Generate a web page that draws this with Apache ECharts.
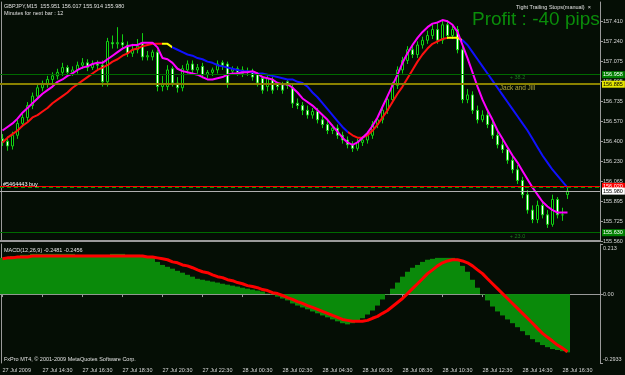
<!DOCTYPE html>
<html><head><meta charset="utf-8">
<script src="https://cdn.jsdelivr.net/npm/echarts@6/dist/echarts.min.js"></script>
<style>html,body{margin:0;padding:0;background:#050e05}#c{width:625px;height:375px}</style>
</head><body><div id="c"></div>
<script>
// ---- data (GBPJPY M15, 27 Jul 2009 12:30 .. 28 Jul 2009 16:45) ----
const timeTickLabels = ['27 Jul 2009','27 Jul 14:30','27 Jul 16:30','27 Jul 18:30','27 Jul 20:30','27 Jul 22:30','28 Jul 00:30','28 Jul 02:30','28 Jul 04:30','28 Jul 06:30','28 Jul 08:30','28 Jul 10:30','28 Jul 12:30','28 Jul 14:30','28 Jul 16:30'];
const priceTicks = [157.410,157.240,157.075,156.905,156.735,156.570,156.400,156.230,156.065,155.895,155.725,155.560];
const macdTicks = [0.213, 0, -0.2933];

const openP = [156.42,156.40,156.36,156.45,156.55,156.60,156.70,156.78,156.85,156.88, 156.92,156.95,156.98,157.02,156.98,157.00,157.04,157.06,157.02,157.05,
 157.04,156.90,157.23,157.22,157.23,157.21,157.14,157.17,157.22,157.11, 157.11,157.15,156.86,156.86,157.01,156.89,156.85,157.00,157.05,157.00,
 157.03,156.96,156.98,157.00,157.06,157.05,156.99,157.01,156.97,156.99, 156.98,156.96,156.93,156.86,156.92,156.88,156.88,156.90,156.85,156.72,
 156.70,156.66,156.62,156.65,156.58,156.54,156.49,156.51,156.45,156.41, 156.37,156.34,156.39,156.41,156.45,156.54,156.58,156.66,156.75,156.87,
 157.00,157.08,157.17,157.13,157.21,157.25,157.29,157.34,157.25,157.38, 157.29,157.34,157.17,156.75,156.79,156.66,156.58,156.62,156.54,156.45,
 156.37,156.33,156.24,156.16,156.07,155.95,155.82,155.74,155.86,155.78, 155.70,155.91,155.78,155.951];
const highP = [156.46,156.44,156.48,156.58,156.63,156.73,156.81,156.88,156.91,156.95, 156.98,157.01,157.06,157.04,157.03,157.07,157.10,157.09,157.08,157.08,
 157.08,157.27,157.29,157.36,157.30,157.24,157.22,157.26,157.31,157.16, 157.17,157.17,156.95,157.04,157.03,156.94,157.04,157.08,157.08,157.05,
 157.06,157.00,157.02,157.08,157.08,157.07,157.03,157.03,157.03,157.02, 157.01,156.98,156.95,156.95,156.94,156.90,156.90,156.92,156.88,156.76,
 156.73,156.70,156.68,156.68,156.61,156.57,156.54,156.54,156.48,156.44, 156.40,156.42,156.44,156.48,156.57,156.61,156.69,156.78,156.90,157.03,
 157.11,157.20,157.22,157.24,157.28,157.33,157.38,157.40,157.42,157.42, 157.38,157.37,157.20,156.84,156.82,156.70,156.66,156.65,156.58,156.50,
 156.41,156.36,156.28,156.20,156.10,155.99,155.86,155.90,155.90,155.82, 155.95,155.93,155.84,156.017];
const lowP = [156.36,156.32,156.33,156.42,156.52,156.57,156.67,156.75,156.82,156.85, 156.89,156.92,156.95,156.95,156.95,156.97,157.01,156.99,157.00,157.00,
 156.86,156.86,157.18,157.18,157.18,157.11,157.11,157.14,157.08,157.08, 157.08,156.82,156.82,156.83,156.86,156.81,156.82,156.97,156.96,156.97,
 156.93,156.93,156.95,156.97,157.00,156.85,156.96,156.95,156.94,156.95, 156.91,156.86,156.80,156.82,156.80,156.83,156.80,156.84,156.68,156.67,
 156.62,156.59,156.59,156.55,156.51,156.46,156.46,156.42,156.38,156.34, 156.31,156.32,156.36,156.38,156.42,156.51,156.55,156.63,156.72,156.84,
 156.97,157.05,157.10,157.10,157.18,157.22,157.26,157.22,157.22,157.26, 157.26,157.14,156.72,156.72,156.63,156.55,156.56,156.51,156.42,156.34,
 156.30,156.21,156.13,156.04,155.92,155.79,155.71,155.71,155.75,155.67, 155.68,155.75,155.73,155.914];
const closeP = [156.40,156.36,156.45,156.55,156.60,156.70,156.78,156.85,156.88,156.92, 156.95,156.98,157.02,156.98,157.00,157.04,157.06,157.02,157.05,157.04,
 156.90,157.24,157.22,157.23,157.21,157.14,157.17,157.20,157.11,157.12, 157.15,156.86,156.88,157.00,156.89,156.85,157.01,157.05,157.00,157.02,
 156.96,156.98,157.00,157.05,157.04,156.89,157.01,156.98,157.00,156.98, 156.94,156.89,156.83,156.93,156.83,156.86,156.83,156.87,156.72,156.70,
 156.66,156.62,156.65,156.58,156.54,156.49,156.51,156.45,156.41,156.37, 156.34,156.39,156.41,156.45,156.54,156.58,156.66,156.75,156.87,157.00,
 157.08,157.17,157.13,157.21,157.25,157.29,157.34,157.25,157.38,157.29, 157.34,157.17,156.75,156.79,156.66,156.58,156.62,156.54,156.45,156.37,
 156.33,156.24,156.16,156.07,155.95,155.82,155.74,155.86,155.78,155.70, 155.91,155.78,155.78,155.980];

const trendMA = [156.39,156.43,156.46,156.49,156.53,156.56,156.60,156.62,156.65,156.68, 156.72,156.75,156.78,156.81,156.85,156.88,156.91,156.94,156.97,157.00,
 157.02,157.04,157.07,157.09,157.12,157.14,157.17,157.18,157.20,157.21, 157.22,157.22,157.22,157.22,157.19,157.17,157.15,157.13,157.12,157.10,
 157.09,157.07,157.06,157.04,157.03,157.02,157.01,157.00,156.99,156.99, 156.98,156.97,156.97,156.96,156.95,156.94,156.93,156.92,156.92,156.90,
 156.89,156.86,156.81,156.77,156.72,156.67,156.62,156.57,156.52,156.48, 156.45,156.43,156.43,156.45,156.49,156.54,156.60,156.66,156.73,156.80,
 156.86,156.93,157.00,157.07,157.13,157.18,157.22,157.24,157.26,157.27, 157.27,157.27,157.25,157.21,157.15,157.09,157.03,156.97,156.91,156.85,
 156.79,156.73,156.67,156.61,156.55,156.49,156.42,156.35,156.28,156.22, 156.16,156.11,156.06,156.01];
const fastMA = [156.49,156.52,156.55,156.59,156.64,156.68,156.72,156.76,156.80,156.83, 156.86,156.90,156.92,156.95,156.97,157.00,157.02,157.03,157.05,157.06,
 157.06,157.09,157.12,157.15,157.18,157.20,157.21,157.21,157.23,157.23, 157.23,157.19,157.10,157.09,157.06,157.01,156.99,156.98,156.97,156.96,
 156.94,156.92,156.92,156.93,156.94,156.96,156.97,156.97,156.98,156.98, 156.99,156.97,156.94,156.93,156.92,156.89,156.88,156.88,156.85,156.81,
 156.76,156.73,156.70,156.66,156.62,156.58,156.53,156.48,156.43,156.39, 156.37,156.39,156.43,156.47,156.53,156.60,156.69,156.78,156.87,156.96,
 157.06,157.14,157.21,157.27,157.32,157.36,157.39,157.40,157.42,157.41, 157.38,157.32,157.21,157.10,156.98,156.86,156.75,156.66,156.58,156.49,
 156.42,156.35,156.28,156.22,156.15,156.08,156.01,155.95,155.89,155.85, 155.82,155.80,155.80,155.80];

const macdMain = [0.154,0.158,0.162,0.162,0.167,0.167,0.171,0.171,0.171,0.171, 0.171,0.171,0.171,0.171,0.171,0.167,0.167,0.167,0.167,0.167,
 0.167,0.167,0.171,0.171,0.171,0.167,0.167,0.167,0.162,0.162, 0.158,0.137,0.124,0.116,0.108,0.099,0.091,0.082,0.074,0.065,
 0.061,0.057,0.053,0.049,0.044,0.040,0.036,0.032,0.027,0.023, 0.019,0.015,0.011,0.002,-0.002,-0.011,-0.019,-0.027,-0.040,-0.049,
 -0.057,-0.065,-0.074,-0.082,-0.091,-0.099,-0.108,-0.116,-0.124,-0.129, -0.124,-0.116,-0.103,-0.087,-0.070,-0.049,-0.023,-0.002,0.023,0.049,
 0.074,0.095,0.112,0.124,0.137,0.146,0.150,0.154,0.154,0.154, 0.154,0.146,0.120,0.095,0.061,0.027,-0.002,-0.027,-0.053,-0.074,
 -0.091,-0.108,-0.124,-0.141,-0.158,-0.175,-0.192,-0.205,-0.217,-0.226, -0.234,-0.238,-0.243,-0.2481];
const macdSignal = [0.150,0.154,0.154,0.158,0.158,0.158,0.162,0.162,0.162,0.162, 0.162,0.162,0.162,0.162,0.162,0.162,0.162,0.162,0.162,0.162,
 0.162,0.162,0.162,0.162,0.162,0.162,0.162,0.162,0.162,0.158, 0.158,0.154,0.150,0.146,0.137,0.133,0.124,0.120,0.112,0.103,
 0.095,0.091,0.082,0.074,0.070,0.061,0.057,0.049,0.044,0.036, 0.032,0.027,0.019,0.015,0.006,0.002,-0.006,-0.015,-0.023,-0.032,
 -0.040,-0.049,-0.057,-0.065,-0.074,-0.082,-0.091,-0.099,-0.108,-0.112, -0.116,-0.116,-0.116,-0.112,-0.103,-0.095,-0.082,-0.070,-0.053,-0.036,
 -0.019,0.002,0.023,0.044,0.065,0.087,0.103,0.120,0.133,0.141, 0.146,0.146,0.141,0.133,0.120,0.103,0.087,0.065,0.044,0.023,
 0.002,-0.019,-0.040,-0.061,-0.082,-0.103,-0.124,-0.146,-0.167,-0.184, -0.200,-0.217,-0.230,-0.2456];

// colour segments of the trend MA (bar index ranges)
const trendSegments = [[0,32,'#ff1010'],[32,34,'#ffff00'],[34,69,'#1010ff'],[69,89,'#ff1010'],[89,92,'#ffff00'],[92,114,'#1010ff']];

const levels = [
  {name: 'fibo', value: 156.958, text: '156.958'},
  {name: 'jack', value: 156.885, text: '156.885'},
  {name: 'order', value: 156.010, text: ''},
  {name: 'stop', value: 156.020, text: '156.020'},
  {name: 'bid', value: 155.980, text: '155.980'},
  {name: 'fibo2', value: 155.630, text: '155.630'}
];

// ---- chart ----
const totalSlots = 120;
const cats = Array.from({length: totalSlots}, (_, i) => i);
const candleData = closeP.map((c, i) => [openP[i], c, lowP[i], highP[i]]);
const FONT = 'Liberation Sans';
const lblColor = '#d8d8d8';
const grey = '#9a9a9a';
const showTick = i => i % 8 === 0 && i / 8 < timeTickLabels.length;

const chart = echarts.init(document.getElementById('c'), null, {renderer: 'canvas'});
const rLabel = (txt, bg, fg) => ({show: true, position: 'end', distance: 2, formatter: txt,
  backgroundColor: bg, color: fg, fontSize: 5.5, fontFamily: FONT, padding: [1, 2, 0, 1]});
const lv = n => levels.find(l => l.name === n);

chart.setOption({
  animation: false,
  backgroundColor: '#050e05',
  grid: [
    {left: 0, right: 25, top: 2, height: 239, containLabel: false, outerBoundsMode: 'none'},
    {left: 0, right: 25, top: 244, height: 119, containLabel: false, outerBoundsMode: 'none'}
  ],
  xAxis: [
    {type: 'category', gridIndex: 0, data: cats, boundaryGap: true,
     axisLine: {show: true, lineStyle: {color: grey, width: 2}}, axisTick: {show: false}, axisLabel: {show: false}, splitLine: {show: false}},
    {type: 'category', gridIndex: 1, data: cats, boundaryGap: true,
     axisLine: {show: true, lineStyle: {color: grey, width: 1}},
     axisTick: {show: true, alignWithLabel: true, interval: showTick, length: 3, lineStyle: {color: grey}},
     axisLabel: {show: true, interval: showTick, formatter: (v, i) => timeTickLabels[i / 8] || '', align: 'left',
       color: lblColor, fontSize: 5.5, fontFamily: FONT, margin: 4},
     splitLine: {show: false}}
  ],
  yAxis: [
    {type: 'value', gridIndex: 0, position: 'right', min: 155.560, max: 157.572,
     axisLine: {show: true, lineStyle: {color: grey}},
     axisTick: {show: true, length: 3, customValues: priceTicks, lineStyle: {color: grey}},
     axisLabel: {show: true, customValues: priceTicks, formatter: v => v.toFixed(3), color: lblColor, fontSize: 5.5, fontFamily: FONT, margin: 3},
     splitLine: {show: false}},
    {type: 'value', gridIndex: 1, position: 'right', min: -0.2933, max: 0.213,
     axisLine: {show: true, lineStyle: {color: grey}},
     axisTick: {show: true, length: 3, customValues: macdTicks, lineStyle: {color: grey}},
     axisLabel: {show: true, customValues: macdTicks,
       formatter: v => v > 0.1 ? '{t|' + v.toFixed(3) + '}' : (v < -0.1 ? '{b|' + v.toFixed(4) + '}' : '0.00'),
       rich: {t: {padding: [8, 0, 0, 0], color: lblColor, fontSize: 5.5, fontFamily: FONT},
              b: {padding: [0, 0, 7, 0], color: lblColor, fontSize: 5.5, fontFamily: FONT}},
       color: lblColor, fontSize: 5.5, fontFamily: FONT, margin: 3},
     splitLine: {show: false}},
    {type: 'value', gridIndex: 0, position: 'left', min: 155.560, max: 157.572, offset: -1,
     axisLine: {show: true, lineStyle: {color: grey}}, axisTick: {show: false}, axisLabel: {show: false}, splitLine: {show: false}},
    {type: 'value', gridIndex: 1, position: 'left', min: -0.2933, max: 0.213, offset: -1,
     axisLine: {show: true, lineStyle: {color: grey}}, axisTick: {show: false}, axisLabel: {show: false}, splitLine: {show: false}}
  ],
  visualMap: [{
    show: false, type: 'piecewise', seriesIndex: 1, dimension: 0,
    pieces: trendSegments.map(s => ({gte: s[0], lt: s[1], color: s[2]}))
  }],
  series: [
    {type: 'candlestick', xAxisIndex: 0, yAxisIndex: 0, data: candleData, barWidth: 3,
     itemStyle: {color: '#000000', color0: '#ffffff', borderColor: '#10d010', borderColor0: '#10d010', borderWidth: 1},
     markLine: {silent: true, symbol: 'none', animation: false, data: [
        {yAxis: lv('fibo').value, lineStyle: {color: '#006a00', type: 'solid', width: 1}, label: rLabel(lv('fibo').text, '#008000', '#ffffff')},
        {yAxis: lv('jack').value, lineStyle: {color: '#8a8200', type: 'solid', width: 2}, label: rLabel(lv('jack').text, '#e6e600', '#000000')},
        {yAxis: lv('order').value, lineStyle: {color: '#00a000', type: [4, 3], width: 1}, label: {show: true, position: 'insideStartTop', distance: [3, 0],
            formatter: '#5464443 buy', color: '#ffffff', fontSize: 5.5, fontFamily: FONT}},
        {yAxis: lv('stop').value, lineStyle: {color: '#ff0000', type: 'solid', width: 1}, label: rLabel(lv('stop').text, '#ff0000', '#ffffff')},
        {yAxis: lv('bid').value, lineStyle: {color: '#b0b0b0', type: 'solid', width: 1}, label: rLabel(lv('bid').text, '#ffffff', '#000000')},
        {yAxis: lv('fibo2').value, lineStyle: {color: '#006a00', type: 'solid', width: 1}, label: rLabel(lv('fibo2').text, '#008000', '#ffffff')}
     ]},
     markPoint: {silent: true, symbol: 'circle', symbolSize: 0, data: [
        {coord: [103, 156.940], label: {show: true, formatter: '+ 38.2', color: '#1e7a1e', fontSize: 5.5, fontFamily: FONT}},
        {coord: [103, 156.848], label: {show: true, formatter: 'Jack and Jill', color: '#b4aa3c', fontSize: 6.5, fontFamily: FONT}},
        {coord: [103, 155.602], label: {show: true, formatter: '+ 23.0', color: '#1e7a1e', fontSize: 5.5, fontFamily: FONT}}
     ]}},
    {type: 'line', xAxisIndex: 0, yAxisIndex: 0, data: trendMA, showSymbol: false, lineStyle: {width: 2}, z: 3},
    {type: 'line', xAxisIndex: 0, yAxisIndex: 0, data: fastMA, showSymbol: false, lineStyle: {width: 2, color: '#ff00ff'}, itemStyle: {color: '#ff00ff'}, z: 4},
    {type: 'bar', xAxisIndex: 1, yAxisIndex: 1, data: macdMain, barCategoryGap: '0%', itemStyle: {color: '#0a8a0a'}},
    {type: 'line', xAxisIndex: 1, yAxisIndex: 1, data: macdSignal, showSymbol: false, lineStyle: {width: 3, color: '#ff0000'}, itemStyle: {color: '#ff0000'}, z: 5}
  ],
  graphic: [
    {type: 'text', z: 100, left: 4, top: 3, style: {text: 'GBPJPY,M15  155.951 156.017 155.914 155.980', fill: '#e0e0e0', font: '5.5px "Liberation Sans"'}},
    {type: 'text', z: 100, left: 4, top: 10, style: {text: 'Minutes for next bar : 12', fill: '#e0e0e0', font: '5.5px "Liberation Sans"'}},
    {type: 'text', z: 100, left: 516, top: 4, style: {text: 'Tight Trailing Stops(manual)  \u00d7', fill: '#e0e0e0', font: '5.5px "Liberation Sans"'}},
    {type: 'text', z: 100, left: 472, top: 10, style: {text: 'Profit : -40 pips', fill: '#0a8c0a', font: '19px "Liberation Sans"'}},
    {type: 'text', z: 100, left: 4, top: 247, style: {text: 'MACD(12,26,9) -0.2481 -0.2456', fill: '#e0e0e0', font: '5.5px "Liberation Sans"'}},
    {type: 'text', z: 100, left: 4, top: 356, style: {text: 'FxPro MT4, \u00a9 2001-2009 MetaQuotes Software Corp.', fill: '#e0e0e0', font: '5.5px "Liberation Sans"'}}
  ]
});
</script></body></html>
